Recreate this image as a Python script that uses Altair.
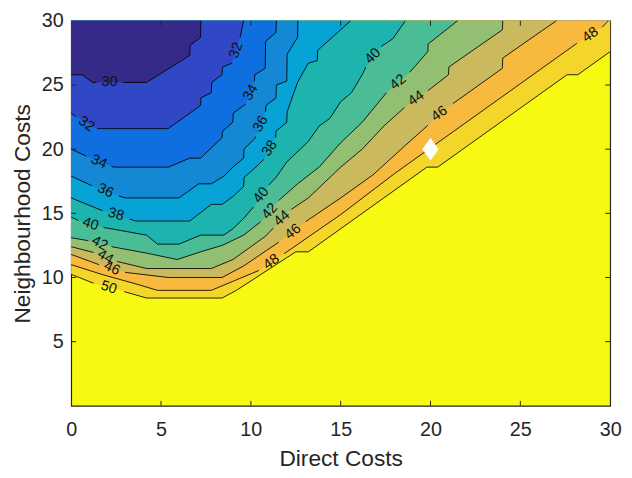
import altair as alt
import pandas as pd

# ---------------- data ----------------
X_TICKS = [0, 5, 10, 15, 20, 25, 30]
Y_TICKS = [5, 10, 15, 20, 25, 30]
INNER_TICKS = [5, 10, 15, 20, 25]
Y_TOP = 30

# contour levels in drawing order (highest first) and the fill of the band just below each level
LEVELS = [50, 48, 46, 44, 42, 40, 38, 36, 34, 32, 30]
FILL_BELOW = ["#F4D62B", "#F8B93F", "#CBB95E", "#93BF73", "#4BBD96", "#1DB3AF",
              "#07A3D6", "#1488D4", "#0F6EE0", "#3047C6", "#352A87"]
TOP_COLOR = "#F8F913"  # band above 50

# contour polylines (Direct, Neighbourhood), split where a label sits
C30 = [[(0, 25.8), (0.6, 25.8), (1.2, 25.2), (1.4, 25.2)],
       [(2.9, 25.2), (4.2, 25.2), (6.6, 27.3), (6.62, 28.1), (7.2, 28.7), (7.22, 30)]]
C32 = [[(0, 22.8), (0.25, 22.55)],
       [(1.45, 21.6), (5.4, 21.6), (7.2, 23.4), (7.22, 24.0), (7.8, 24.4), (7.82, 25.2),
        (8.4, 25.8), (8.42, 26.4), (8.95, 26.7)],
       [(9.4, 28.7), (9.6, 30)]]
C34 = [[(0, 20.0), (0.85, 19.45)],
       [(2.25, 18.65), (2.4, 18.6), (5.4, 18.6), (6.6, 19.3), (7.2, 19.3), (8.4, 20.9),
        (8.42, 21.4), (9.0, 22.1), (9.02, 22.8), (9.6, 23.4), (9.72, 23.5)],
       [(10.2, 25.3), (10.22, 25.8), (10.8, 26.3), (10.82, 28.4), (11.4, 29.1), (11.42, 30)]]
C36 = [[(0, 17.9), (1.15, 17.15)],
       [(2.65, 16.35), (3.0, 16.2), (6.0, 16.2), (7.1, 17.3), (7.8, 17.3), (8.5, 17.9),
        (9.0, 18.6), (9.6, 19.3), (9.62, 20.0), (10.2, 20.8), (10.28, 21.0)],
       [(10.82, 22.9), (10.84, 23.4), (11.4, 24.0), (11.42, 25.0), (12.0, 25.3),
        (12.02, 27.4), (12.6, 28.7), (12.62, 30)]]
C38 = [[(0, 16.2), (1.75, 15.2)],
       [(3.25, 14.55), (3.6, 14.4), (6.6, 14.4), (7.8, 15.7), (8.4, 15.7), (9.0, 16.3),
        (9.6, 17.1), (9.62, 17.8), (10.2, 18.5), (10.72, 19.2)],
       [(11.38, 20.9), (11.4, 21.4), (12.0, 22.1), (12.02, 22.9), (12.6, 25.2),
        (13.2, 26.7), (13.7, 26.9), (13.72, 27.7), (15.55, 30)]]
C40 = [[(0, 14.7), (0.4, 14.45)],
       [(1.8, 13.9), (4.2, 13.3), (4.8, 12.6), (6.0, 12.6), (7.2, 13.3), (8.5, 13.3),
        (9.0, 13.8), (9.6, 14.6), (10.15, 15.5)],
       [(11.0, 17.2), (11.4, 17.8), (12.0, 19.0), (13.2, 20.6), (13.8, 21.8), (14.4, 22.4),
        (15.0, 23.7), (15.6, 24.4), (16.2, 25.8), (16.4, 26.4)],
       [(17.25, 28.0), (17.9, 28.6), (18.6, 30)]]
C42 = [[(0, 13.1), (0.95, 12.87)],
       [(2.25, 12.4), (4.2, 11.9), (5.9, 11.4), (7.2, 12.0), (8.4, 12.5), (9.6, 13.3),
        (10.55, 14.35)],
       [(11.55, 16.0), (12.6, 17.3), (13.8, 18.6), (15.0, 20.5), (16.2, 22.1), (17.55, 24.4)],
       [(18.85, 26.0), (19.85, 27.6), (19.87, 28.2), (21.5, 30)]]
C44 = [[(0, 12.4), (1.25, 11.95)],
       [(2.55, 11.25), (4.2, 10.7), (7.8, 10.7), (9.0, 11.4), (10.8, 13.2), (11.25, 13.85)],
       [(12.25, 15.3), (13.2, 16.2), (15.0, 18.6), (16.2, 20.0), (17.4, 21.8), (18.55, 23.25)],
       [(19.85, 24.55), (21.0, 25.8), (21.02, 26.4), (24.0, 29.3), (24.02, 30)]]
C46 = [[(0, 11.8), (1.55, 11.0)],
       [(3.0, 10.4), (5.4, 10.0), (8.4, 10.0), (9.6, 10.9), (11.55, 12.75)],
       [(13.05, 14.35), (15.0, 16.2), (16.8, 18.0), (18.6, 20.3), (19.85, 21.85)],
       [(21.25, 23.55), (24.0, 26.3), (24.02, 27.1), (27.0, 30)]]
C48 = [[(0, 11.0), (1.8, 10.2), (3.6, 9.5), (4.8, 9.0), (7.8, 9.0), (9.0, 9.7), (10.45, 10.55)],
       [(11.85, 11.85), (15.0, 14.9), (18.0, 18.1), (20.0, 20.1), (24.0, 24.1), (28.15, 28.25)],
       [(29.55, 29.5), (29.9, 30)]]
C50 = [[(0, 10.25), (1.25, 9.55)],
       [(2.95, 8.9), (4.2, 8.4), (8.4, 8.4), (9.2, 9.0), (12.5, 12.0), (13.2, 12.0),
        (19.8, 18.6), (20.4, 18.6), (27.6, 25.8), (28.2, 25.8), (30, 27.6)]]
CONTOURS = {30: C30, 32: C32, 34: C34, 36: C36, 38: C38, 40: C40,
            42: C42, 44: C44, 46: C46, 48: C48, 50: C50}

# inline contour labels
LABEL_TEXT = ["30", "32", "32", "34", "34", "36", "36", "38", "38", "40", "40", "40",
              "42", "42", "42", "44", "44", "44", "46", "46", "46", "48", "48", "50"]
LABEL_X = [2.13, 0.84, 9.19, 1.54, 10.0, 1.9, 10.55, 2.49, 11.05, 1.08, 10.58, 16.8,
           1.58, 11.06, 18.2, 1.9, 11.74, 19.2, 2.27, 12.35, 20.5, 11.15, 28.9, 2.09]
LABEL_Y = [25.2, 21.95, 27.7, 19.0, 24.4, 16.75, 21.95, 14.9, 20.05, 14.15, 16.4, 27.25,
           12.65, 15.15, 25.2, 11.6, 14.6, 23.95, 10.7, 13.55, 22.75, 11.2, 28.9, 9.2]
LABEL_ANGLE = [0, 35, 290, 25, 300, 25, 300, 15, 305, 18, 308, 315,
               28, 312, 320, 30, 318, 325, 25, 322, 325, 325, 325, 18]

MARK_X = [20]
MARK_Y = [20]

# ---------------- build tables ----------------
rows = []
for lev, segs in CONTOURS.items():
    n = 0
    for si, seg in enumerate(segs):
        for (px, py) in seg:
            rows.append({"level": lev, "key": f"{lev}-{si}", "n": n, "x": px, "y": py,
                         "top": Y_TOP})
            n += 1
cdf = pd.DataFrame(rows)

ldf = pd.DataFrame({"x": LABEL_X, "y": LABEL_Y, "t": LABEL_TEXT, "a": LABEL_ANGLE})

W, H = 546, 390
FONT = "Liberation Sans"
TXT = "#262626"

xs = alt.Scale(domain=[0, 30], nice=False, zero=False)
ys = alt.Scale(domain=[0, 30], nice=False, zero=False)
x_axis = alt.Axis(values=X_TICKS, title="Direct Costs", ticks=False, domain=False, grid=False,
                  labelFlush=False, labelPadding=14, titlePadding=8, format="d")
y_axis = alt.Axis(values=Y_TICKS, title="Neighbourhood Costs", ticks=False, domain=False,
                  grid=False, labelPadding=8, titlePadding=7, format="d")


def X():
    return alt.X("x:Q", scale=xs, axis=x_axis)


def Y():
    return alt.Y("y:Q", scale=ys, axis=y_axis, stack=None)


layers = []
for lev, col in zip(LEVELS, FILL_BELOW):
    layers.append(
        alt.Chart(cdf[cdf.level == lev]).mark_area(color=col, opacity=1, orient="vertical").encode(
            x=X(), y=Y(), y2=alt.Y2("top:Q")
        )
    )

lines = alt.Chart(cdf).mark_line(color="black", strokeWidth=0.85).encode(
    x=X(), y=Y(), detail="key:N", order=alt.Order("n:Q")
)

labels = alt.Chart(ldf).mark_text(font=FONT, fontSize=14.5, color="#111111").encode(
    x=X(), y=Y(), text="t:N", angle=alt.Angle("a:Q", scale=None)
)

tx = pd.DataFrame({"x": INNER_TICKS})
ty = pd.DataFrame({"y": INNER_TICKS})
tick_bottom = alt.Chart(tx).mark_rule(color=TXT, strokeWidth=1).encode(
    x=X(), y=alt.value(H), y2=alt.value(H - 5))
tick_top = alt.Chart(tx).mark_rule(color=TXT, strokeWidth=1).encode(
    x=X(), y=alt.value(0), y2=alt.value(5))
tick_left = alt.Chart(ty).mark_rule(color=TXT, strokeWidth=1).encode(
    y=Y(), x=alt.value(0), x2=alt.value(5))
tick_right = alt.Chart(ty).mark_rule(color=TXT, strokeWidth=1).encode(
    y=Y(), x=alt.value(W), x2=alt.value(W - 5))

marker = alt.Chart(pd.DataFrame({"x": MARK_X, "y": MARK_Y})).mark_point(
    shape="M0,-1L0.72,0L0,1L-0.72,0Z", size=530, filled=True, color="white", opacity=1
).encode(x=X(), y=Y())

chart = alt.layer(
    *layers, lines, labels, tick_bottom, tick_top, tick_left, tick_right, marker
).properties(
    width=W, height=H,
    padding={"left": 64, "top": 10, "right": 14, "bottom": 62},
    autosize=alt.AutoSizeParams(type="none"),
).configure_view(
    fill=TOP_COLOR, stroke=TXT, strokeWidth=1.2
).configure_axis(
    labelFont=FONT, titleFont=FONT, labelFontSize=20, titleFontSize=23,
    labelColor=TXT, titleColor=TXT, titleFontWeight="normal"
)

chart.save("out.html", embed_options={"renderer": "svg", "actions": False})
